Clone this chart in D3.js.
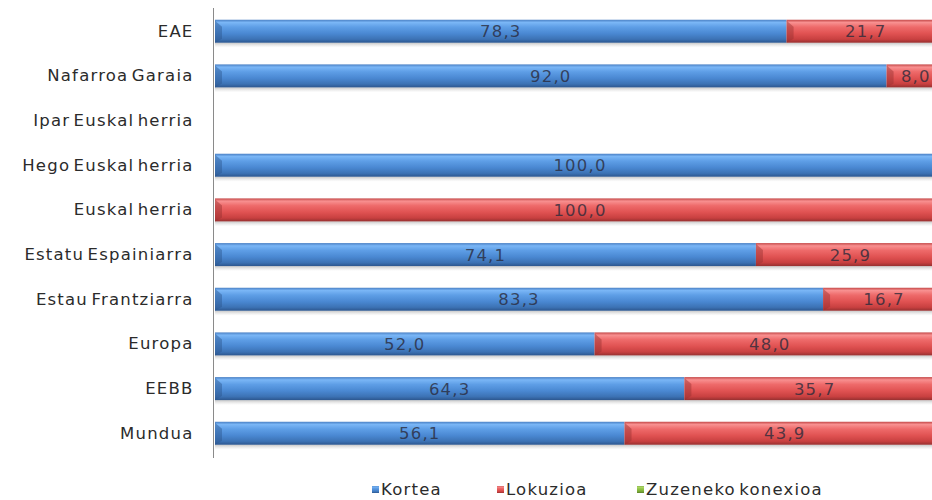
<!DOCTYPE html>
<html>
<head>
<meta charset="utf-8">
<script src="https://cdn.jsdelivr.net/npm/d3@7"></script>
<style>
  html, body { margin: 0; padding: 0; background: #fff; }
  svg { display: block; }
  text { font-family: "DejaVu Sans", Verdana, sans-serif; font-size: 16.5px; letter-spacing: 1.2px; word-spacing: -3px; }
</style>
</head>
<body>
<svg id="chart" width="932" height="500"></svg>
<script>
const categories = ["EAE", "Nafarroa Garaia", "Ipar Euskal herria", "Hego Euskal herria", "Euskal herria",
  "Estatu Espainiarra", "Estau Frantziarra", "Europa", "EEBB", "Mundua"];
const kortea    = [78.3, 92.0, 0, 100.0, 0, 74.1, 83.3, 52.0, 64.3, 56.1];
const lokuzioa  = [21.7, 8.0, 0, 0, 100.0, 25.9, 16.7, 48.0, 35.7, 43.9];
const zuzeneko  = [0, 0, 0, 0, 0, 0, 0, 0, 0, 0];
const seriesNames = ["Kortea", "Lokuzioa", "Zuzeneko konexioa"];

const svg = d3.select("#chart");
const defs = svg.append("defs");

const palettes = [
  ["#4a80c4", "#7ab6f6", "#5e9ee6", "#4a88d2", "#3c72b4", "#2c568e"],
  ["#c44848", "#f89090", "#ee6a6a", "#e05252", "#c84040", "#963030"],
  ["#6f9a30", "#b4dc70", "#9acb4f", "#86b83e", "#72a033", "#587d28"]
];
const stops = [0, 0.12, 0.32, 0.6, 0.85, 1];
palettes.forEach((p, i) => {
  const g = defs.append("linearGradient").attr("id", "g" + i)
    .attr("x1", 0).attr("y1", 0).attr("x2", 0).attr("y2", 1);
  p.forEach((c, j) => g.append("stop").attr("offset", stops[j]).attr("stop-color", c));
});
const sh = defs.append("linearGradient").attr("id", "shadow").attr("x1", 0).attr("y1", 0).attr("x2", 0).attr("y2", 1);
sh.append("stop").attr("offset", 0).attr("stop-color", "#999").attr("stop-opacity", 0.55);
sh.append("stop").attr("offset", 1).attr("stop-color", "#ccc").attr("stop-opacity", 0);

const x = d3.scaleLinear().domain([0, 100]).range([215, 945]);
const y = d3.scaleBand().domain(categories).range([8.9, 455.6]).paddingInner(0.485).paddingOuter(0.2425);

const data = categories.map((c, i) => ({ cat: c, vals: [kortea[i], lokuzioa[i], zuzeneko[i]] }));
const stacked = [];
data.forEach(d => {
  let acc = 0;
  d.vals.forEach((v, s) => {
    stacked.push({ cat: d.cat, s, x0: acc, x1: acc + v, v });
    acc += v;
  });
});

// shadows under bars
data.forEach(d => {
  const total = d3.sum(d.vals);
  if (total <= 0) return;
  svg.append("rect")
    .attr("x", x(0)).attr("y", y(d.cat) + y.bandwidth())
    .attr("width", x(total) - x(0)).attr("height", 5)
    .attr("fill", "url(#shadow)");
});

const segs = stacked.filter(d => d.v > 0);
const g = svg.append("g");
g.selectAll("rect.seg").data(segs).join("rect")
  .attr("class", "seg")
  .attr("x", d => x(d.x0)).attr("y", d => y(d.cat))
  .attr("width", d => x(d.x1) - x(d.x0)).attr("height", y.bandwidth())
  .attr("fill", d => "url(#g" + d.s + ")");

// bevel at segment starts
g.selectAll("path.bevel").data(segs).join("path")
  .attr("class", "bevel")
  .attr("d", d => {
    const x0 = x(d.x0), y0 = y(d.cat), h = y.bandwidth();
    return `M${x0},${y0 + 1}L${x0 + 7},${y0 + 7}L${x0 + 7},${y0 + h - 4}L${x0},${y0 + h}Z`;
  })
  .attr("fill", d => palettes[d.s][5]).attr("opacity", 0.45);

// value labels
g.selectAll("text.val").data(segs).join("text")
  .attr("class", "val")
  .attr("x", d => (x(d.x0) + x(d.x1)) / 2)
  .attr("y", d => y(d.cat) + y.bandwidth() / 2)
  .attr("dy", "0.36em")
  .attr("text-anchor", "middle")
  .attr("fill", "#2a2a3a")
  .attr("fill-opacity", 0.8)
  .text(d => d.v.toFixed(1).replace(".", ","));

// axis
const yAxis = d3.axisLeft(y).tickSize(0).tickPadding(20);
const ax = svg.append("g").attr("transform", "translate(213.5,0)").call(yAxis);
ax.attr("font-family", null).attr("font-size", null);
ax.select(".domain").attr("stroke", "#8a8a8a").attr("d", "M0,8V458");
ax.selectAll("text").attr("fill", "#2b2b2b");

// legend
const legendX = [372, 497, 637];
const leg = svg.append("g");
seriesNames.forEach((n, i) => {
  leg.append("rect").attr("x", legendX[i]).attr("y", 486).attr("width", 7).attr("height", 7)
    .attr("fill", "url(#g" + i + ")");
  leg.append("text").attr("x", legendX[i] + 9).attr("y", 495)
    .attr("fill", "#2b2b2b").text(n);
});
</script>
</body>
</html>
